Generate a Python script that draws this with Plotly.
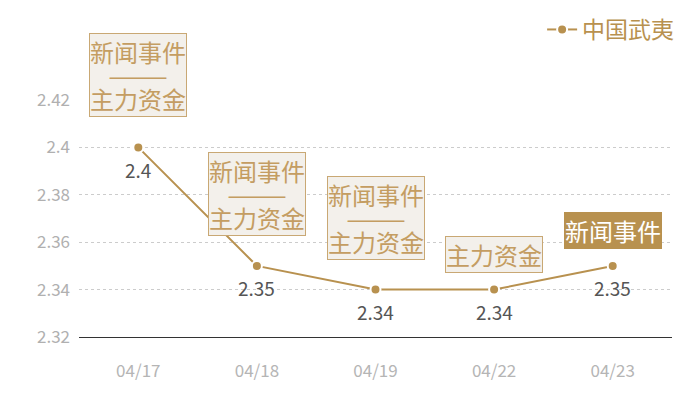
import plotly.graph_objects as go

dates = ['04/17', '04/18', '04/19', '04/22', '04/23']
prices = [2.40, 2.35, 2.34, 2.34, 2.35]
price_labels = ['2.4', '2.35', '2.34', '2.34', '2.35']
# annotation lines per point (news event / main capital)
notes = [['新闻事件', '———', '主力资金'], ['新闻事件', '———', '主力资金'], ['新闻事件', '———', '主力资金'],
         ['主力资金'], ['新闻事件']]
series_name = '中国武夷'

gold = '#b8914f'
font = 'Noto Sans CJK SC'

fig = go.Figure()
fig.add_trace(go.Scatter(x=dates, y=prices, name=series_name, mode='lines+markers',
                         line=dict(color=gold, width=2),
                         marker=dict(size=10, color=gold, line=dict(color='white', width=2))))

for d, p, lab, note in zip(dates, prices, price_labels, notes):
    fig.add_annotation(x=d, y=p, text=lab, showarrow=False, yshift=-22,
                       font=dict(family=font, size=19, color='#555555'))
    solid = note == ['新闻事件']
    text = '<br>'.join("<span style='font-size:24px'>%s</span>" % s for s in note)
    fig.add_annotation(x=d, y=p, text=text, showarrow=False, yanchor='bottom',
                       yshift=30 if len(note) > 1 else 17,
                       bgcolor=gold if solid else '#f3f0eb',
                       bordercolor=gold if solid else '#c9a874',
                       borderwidth=1, borderpad=0,
                       font=dict(family=font, size=18, color='white' if solid else '#c49d62'))

# page body adds an 8px offset, so margins are shifted to compensate
fig.update_layout(width=700, height=400, plot_bgcolor='white', paper_bgcolor='white',
                  margin=dict(l=71, r=36, t=92, b=71, autoexpand=False),
                  font=dict(family=font),
                  showlegend=True,
                  legend=dict(x=1.012, y=1.0, xref='paper', yref='container', xanchor='right', yanchor='top',
                              font=dict(size=23, color=gold), itemwidth=30, bgcolor='rgba(0,0,0,0)'))
fig.update_xaxes(range=[-0.5, 4.5], showgrid=False, showline=True, linecolor='#333333', linewidth=1,
                 tickfont=dict(size=17, color='#b5b5b5'), ticks='', ticklabelstandoff=19)
fig.update_yaxes(range=[2.32, 2.42], dtick=0.02, showgrid=True, gridcolor='#cccccc', griddash='dot',
                 zeroline=False, showline=False, tickfont=dict(size=17, color='#b0b0b0'), ticklabelstandoff=8)

fig.write_html('out.html')
